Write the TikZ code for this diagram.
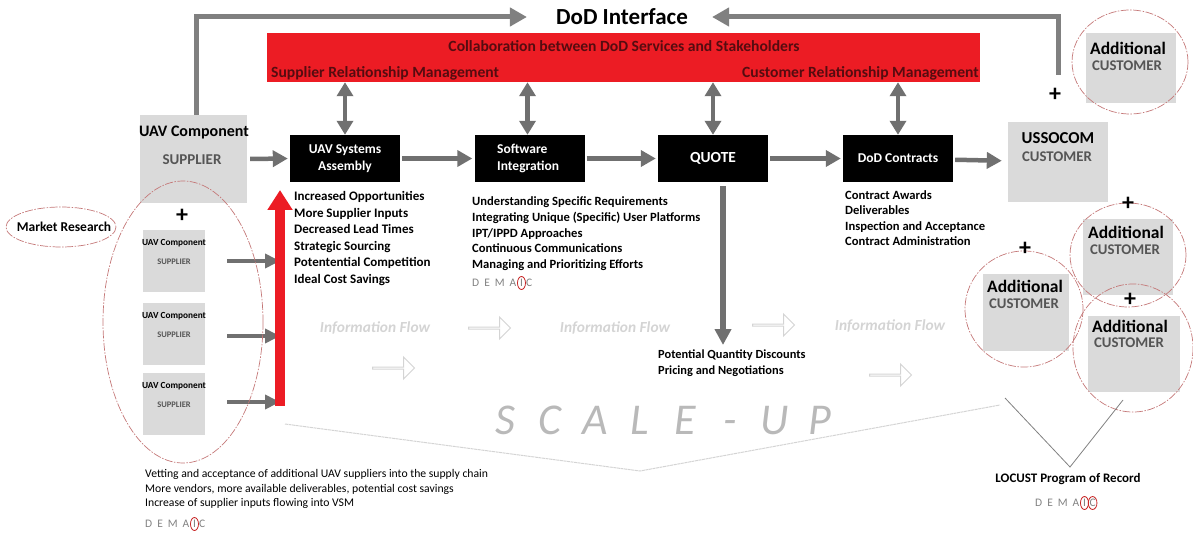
\documentclass[tikz,border=0pt]{standalone}
\usepackage{fontspec}
\setmainfont{Carlito}
\usetikzlibrary{positioning,arrows.meta,shapes.geometric,shapes.arrows}

\definecolor{barred}{RGB}{236,28,36}
\definecolor{bartext}{RGB}{85,12,16}
\definecolor{flowgrey}{RGB}{112,112,112}
\definecolor{linegrey}{RGB}{128,128,128}
\definecolor{boxgrey}{RGB}{218,218,218}
\definecolor{capsgrey}{RGB}{85,85,85}
\definecolor{ringred}{RGB}{196,120,120}
\definecolor{circred}{RGB}{200,40,40}
\definecolor{faintgrey}{RGB}{212,212,212}
\definecolor{scalegrey}{RGB}{185,185,185}
\definecolor{dmgrey}{RGB}{130,130,130}

\tikzset{
  greybox/.style={fill=boxgrey, inner sep=0pt},
  blackbox/.style={fill=black, text=white, font=\fontsize{13.5}{17}\selectfont\bfseries,
    minimum width=110pt, minimum height=47pt, inner sep=0pt, align=center},
  bartitle/.style={font=\fontsize{15.6}{18}\selectfont\bfseries, text=bartext, inner sep=0pt},
  boxtitle/.style={font=\fontsize{16}{18}\selectfont\bfseries, inner sep=0pt},
  boxcaps/.style={font=\fontsize{15}{17}\selectfont\bfseries, text=capsgrey, inner sep=0pt},
  addtitle/.style={font=\fontsize{17.5}{20}\selectfont\bfseries, inner sep=0pt},
  addcaps/.style={font=\fontsize{14.8}{17}\selectfont\bfseries, text=capsgrey, inner sep=0pt},
  smalltitle/.style={font=\fontsize{9.3}{11}\selectfont\bfseries, inner sep=0pt},
  smallcaps/.style={font=\fontsize{8.5}{10}\selectfont\bfseries, text=capsgrey, inner sep=0pt},
  listtext/.style={font=\fontsize{13}{16.5}\selectfont\bfseries, align=left, inner sep=0pt, anchor=north west},
  plus/.style={font=\fontsize{24}{24}\selectfont\bfseries, inner sep=0pt},
  ring/.style={draw=ringred, line width=0.7pt, dash pattern=on 8pt off 1.5pt on 1.5pt off 1.5pt},
  fatarrow/.style={draw=flowgrey, line width=4.5pt, -{Triangle[width=16pt,length=15pt]}},
  duoarrow/.style={draw=flowgrey, line width=4.5pt, {Triangle[width=16pt,length=14pt]}-{Triangle[width=16pt,length=14pt]}},
  toparrow/.style={draw=linegrey, line width=5pt, -{Triangle[width=18pt,length=17pt]}},
  inarrow/.style={draw=flowgrey, line width=4pt, -{Triangle[width=14pt,length=15pt]}},
  flowtext/.style={font=\fontsize{15.4}{17}\selectfont\bfseries\itshape, text=faintgrey, inner sep=0pt},
  hollow/.style={single arrow, draw=faintgrey, line width=1pt, minimum height=42pt,
    minimum width=22pt, single arrow head extend=5pt, inner sep=0pt},
  scaleup/.style={font=\fontsize{44}{44}\selectfont\itshape, text=scalegrey, inner sep=0pt, anchor=base},
  demaic/.style={font=\fontsize{11.5}{12}\selectfont, text=dmgrey, inner sep=0pt},
  circled/.style={ellipse, draw=circred, line width=0.8pt, minimum width=8pt, minimum height=13pt}
}

\begin{document}
\begin{tikzpicture}[x=1pt, y=-1pt]
\useasboundingbox (0,0) rectangle (1193,537);

% DoD interface and the collaboration bar
\node[font=\fontsize{23}{26}\selectfont\bfseries, inner sep=0pt] (dodi) at (622,17) {DoD Interface};
\node[fill=barred, minimum width=713pt, minimum height=49pt, inner sep=0pt] (collab) at (623.5,57.5) {};
\node[bartitle] (collabtxt) at (624,46) {Collaboration between DoD Services and Stakeholders};
\node[bartitle, anchor=west] (srm) at (271,73) {Supplier Relationship Management};
\node[bartitle, anchor=east] (crm) at (979,73) {Customer Relationship Management};

% main chain
\node[greybox, minimum width=107pt, minimum height=88pt] (sup) at (193.5,159) {};
\node[boxtitle] (suptitle) at (194,133) {UAV Component};
\node[boxcaps] (supcaps) at (192,160) {SUPPLIER};

\node[blackbox] (asm) at (345,158.5) {UAV Systems\\Assembly};
\node[blackbox] (sw) at (529.5,158.5) {};
\node[font=\fontsize{13.5}{17}\selectfont\bfseries, text=white, align=left, inner sep=0pt, anchor=west] (swtxt) at (497,158.5) {Software\\Integration};
\node[blackbox, font=\fontsize{15.4}{17}\selectfont\bfseries] (quote) at (713,158.5) {QUOTE};
\node[blackbox] (dodc) at (898,158.5) {DoD Contracts};

\node[greybox, minimum width=100pt, minimum height=80pt] (usso) at (1058,162) {};
\node[boxtitle, font=\fontsize{16.7}{19}\selectfont\bfseries] (ussotitle) at (1058,138) {USSOCOM};
\node[addcaps] (ussocaps) at (1057,157) {CUSTOMER};

\draw[fatarrow, shorten <=3pt, shorten >=2pt] (sup.east) -- (asm.west);
\draw[fatarrow, shorten <=2pt, shorten >=2pt] (asm) -- (sw);
\draw[fatarrow, shorten <=2pt, shorten >=2pt] (sw) -- (quote);
\draw[fatarrow, shorten <=2pt, shorten >=2pt] (quote) -- (dodc);
\draw[fatarrow, shorten <=2pt, shorten >=6pt] (dodc) -- (usso);

% links up to the bar
\draw[duoarrow] (asm.north |- collab.south) -- (asm.north);
\draw[duoarrow] ([xshift=-2pt]sw.north |- collab.south) -- ([xshift=-2pt]sw.north);
\draw[duoarrow] (quote.north |- collab.south) -- (quote.north);
\draw[duoarrow] (dodc.north |- collab.south) -- (dodc.north);

% feedback to the DoD interface
\coordinate (rtop) at (1058,75);
\draw[toparrow, shorten >=29pt] ([xshift=3pt]sup.north) |- (dodi.west);
\draw[toparrow, shorten >=24pt] (rtop) |- (dodi.east);
\node[plus] (plus0) at (1055,95) {+};

% additional customers
\node[greybox, minimum width=90pt, minimum height=70pt] (add1) at (1131,68) {};
\node[addtitle] (add1t) at (1128,48) {Additional};
\node[addcaps] (add1c) at (1127,66) {CUSTOMER};
\draw[ring] (1130,62) ellipse [x radius=58, y radius=52];

\node[greybox, minimum width=86pt, minimum height=77pt] (add2) at (1026,312) {};
\node[addtitle] (add2t) at (1025,286) {Additional};
\node[addcaps] (add2c) at (1024,304) {CUSTOMER};
\draw[ring] (1024,309) ellipse [x radius=59, y radius=58];
\node[plus] (plus2) at (1025,249) {+};

\node[greybox, minimum width=90pt, minimum height=76pt] (add3) at (1128,257) {};
\node[addtitle] (add3t) at (1126,232) {Additional};
\node[addcaps] (add3c) at (1125,250) {CUSTOMER};
\draw[ring] (1128,255) ellipse [x radius=58, y radius=52];
\node[plus] (plus3) at (1128,204) {+};

\node[greybox, minimum width=92pt, minimum height=76pt] (add4) at (1134,354) {};
\node[addtitle] (add4t) at (1130,326) {Additional};
\node[addcaps] (add4c) at (1129,343) {CUSTOMER};
\draw[ring] (1133,348) ellipse [x radius=60, y radius=64];
\node[plus] (plus4) at (1130,300) {+};

% extra suppliers
\node[plus] (plus1) at (182,216) {+};
\foreach \y [count=\i] in {261,334,404} {
  \node[greybox, minimum width=62pt, minimum height=62pt] (s\i) at (174,\y) {};
  \node[smalltitle, below=9pt of s\i.north] (s\i t) {UAV Component};
  \node[smallcaps, below=12pt of s\i t] (s\i c) {SUPPLIER};
}
\coordinate (redtop) at (280,190);
\coordinate (redbot) at (280,406);
\draw[inarrow] ([xshift=22pt]s1.east) -- (s1.east -| redtop) ;
\draw[inarrow] ([xshift=22pt]s2.east |- 0,336) -- (redtop |- 0,336);
\draw[inarrow] ([xshift=22pt]s3.east |- 0,402) -- (redtop |- 0,402);
\draw[draw=barred, line width=10pt, -{Triangle[width=24pt,length=20pt]}] (redbot) -- (redtop);
\draw[ring] (183,322) ellipse [x radius=80, y radius=141];
\node[font=\fontsize{13.5}{15}\selectfont\bfseries, inner sep=0pt] (mr) at (64,227) {Market Research};
\draw[ring] ([xshift=-3pt]mr.center) ellipse [x radius=55, y radius=20];

% lists under the chain
\node[listtext] (gains) at (294,191.5) {Increased Opportunities\\More Supplier Inputs\\Decreased Lead Times\\Strategic Sourcing\\Potentential Competition\\Ideal Cost Savings};
\node[listtext, font=\fontsize{12.6}{15.8}\selectfont\bfseries] (swlist) at (472,196.5) {Understanding Specific Requirements\\Integrating Unique (Specific) User Platforms\\IPT/IPPD Approaches\\Continuous Communications\\Managing and Prioritizing Efforts};
\node[demaic, anchor=west] (dm1) at (472,283) {D\hspace{5pt}E\hspace{5pt}M\hspace{5pt}A};
\node[demaic, circled, right=0.5pt of dm1] (dm1i) {I};
\node[demaic, right=0pt of dm1i] (dm1c) {C};

\node[listtext, font=\fontsize{12.6}{15.3}\selectfont\bfseries] (ctlist) at (845,190.5) {Contract Awards\\Deliverables\\Inspection and Acceptance\\Contract Administration};

\coordinate (qend) at (723,345);
\draw[draw=flowgrey, line width=6pt, -{Triangle[width=16pt,length=16pt]}, shorten <=4pt] ([xshift=10pt]quote.south) -- (qend);
\node[listtext, font=\fontsize{12.4}{16}\selectfont\bfseries] (qlist) at (658,349.5) {Potential Quantity Discounts\\Pricing and Negotiations};

% information flow
\node[flowtext] (if1) at (375,328) {Information Flow};
\node[flowtext] (if2) at (615,328) {Information Flow};
\node[flowtext] (if3) at (890,326) {Information Flow};
\node[hollow] (ha1) at (489,328) {};
\node[hollow] (ha2) at (393,368) {};
\node[hollow] (ha3) at (773,325) {};
\node[hollow] (ha4) at (890,375) {};

% scale-up chevron
\foreach \ch [count=\i from 0] in {S,C,A,L,E,-,U,P}
  \node[scaleup] (su\i) at (505+45*\i,434) {\ch};
\coordinate (chevl) at (285,424);
\coordinate (chevm) at (640,471);
\coordinate (chevr) at (1000,405);
\draw[draw=faintgrey, line width=1pt, dash pattern=on 3pt off 0.6pt] (chevl) -- (chevm) -- (chevr);

% bottom notes
\node[listtext, font=\fontsize{11.7}{14.5}\selectfont] (notes) at (145,469.5) {Vetting and acceptance of additional UAV suppliers into the supply chain\\More vendors, more available deliverables, potential cost savings\\Increase of supplier inputs flowing into VSM};
\node[demaic, anchor=west] (dm2) at (145,524) {D\hspace{5pt}E\hspace{5pt}M\hspace{5pt}A};
\node[demaic, circled, right=0.5pt of dm2] (dm2i) {I};
\node[demaic, right=0pt of dm2i] (dm2c) {C};

\coordinate (vl) at (1005,398);
\coordinate (vm) at (1070,467);
\coordinate (vr) at (1123,400);
\draw[draw=linegrey, line width=0.8pt] (vl) -- (vm) -- (vr);
\node[font=\fontsize{13}{15}\selectfont\bfseries, inner sep=0pt] (locust) at (1068,479) {LOCUST Program of Record};
\node[demaic, anchor=west] (dm3) at (1035,503) {D\hspace{5pt}E\hspace{5pt}M\hspace{5pt}A};
\node[demaic, circled, right=0.5pt of dm3] (dm3i) {I};
\node[demaic, circled, right=-1pt of dm3i] (dm3c) {C};
\end{tikzpicture}
\end{document}
